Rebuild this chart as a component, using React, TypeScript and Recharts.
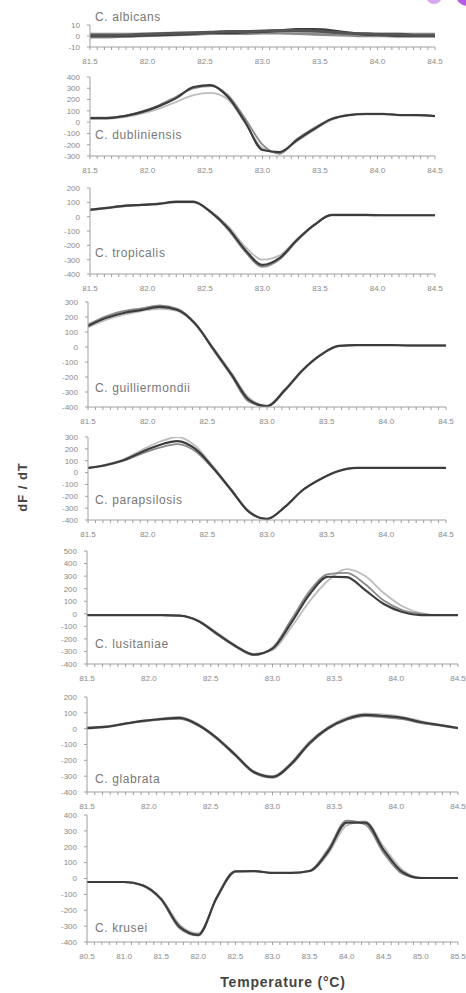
import { LineChart, Line, XAxis, YAxis } from "recharts";

// temperature grid (°C) for the first seven panels and for C. krusei
const TEMPS = [
  81.5, 81.65, 81.8, 81.95, 82.1, 82.25, 82.4, 82.55, 82.7, 82.85, 83.0, 83.15, 83.3, 83.45,
  83.6, 83.75, 83.9, 84.05, 84.2, 84.35, 84.5,
];
const TEMPS_KRUSEI = [
  80.5, 80.75, 81.0, 81.25, 81.5, 81.75, 82.0, 82.25, 82.5, 82.75, 83.0, 83.25, 83.5, 83.75,
  84.0, 84.25, 84.5, 84.75, 85.0, 85.25, 85.5,
];
const X_TICKS = [81.5, 82, 82.5, 83, 83.5, 84, 84.5];
const X_TICKS_KRUSEI = [80.5, 81, 81.5, 82, 82.5, 83, 83.5, 84, 84.5, 85, 85.5];

// dF/dT replicate curves per species (light, medium, dark)
const ALBICANS = [
  [2, 2, 2, 2, 2.5, 3, 3, 3, 3.5, 3, 3, 3, 3.5, 3, 3, 2.5, 2.5, 2, 2, 2, 2],
  [-1, -1, -0.5, 0, 0.5, 1, 1.5, 2, 2, 2, 2.5, 2.5, 2, 1.5, 1, 0.5, 0, 0, -0.5, -0.5, -0.5],
  [0, 0, 0, 0.5, 1, 1.5, 2, 3, 3, 3.5, 4, 5, 6, 6, 5, 3, 1.5, 1, 0.5, 0.5, 0.5],
  [1, 1, 1, 1.5, 2, 2.5, 3, 3.5, 4, 4, 4.5, 5, 5, 4.5, 3.5, 2.5, 2, 1.5, 1.5, 1, 1],
];
const DUBLINIENSIS = [
  [30, 30, 45, 75, 120, 180, 240, 260, 200, -10, -230, -270, -170, -70, 20, 60, 70, 70, 65, 60, 55],
  [40, 40, 55, 95, 150, 225, 300, 320, 240, 30, -200, -280, -150, -50, 30, 65, 75, 75, 65, 65, 55],
  [36, 36, 54, 89, 142, 213, 311, 328, 222, 1, -247, -265, -158, -61, 27, 63, 72, 72, 63, 63, 54],
];
const TROPICALIS = [
  [45, 58, 72, 80, 88, 100, 100, 38, -65, -210, -300, -270, -155, -55, 12, 12, 12, 12, 12, 12, 12],
  [50, 63, 78, 84, 92, 106, 106, 28, -90, -245, -350, -298, -168, -60, 10, 10, 10, 10, 10, 10, 10],
  [47, 61, 75, 82, 89, 103, 103, 33, -79, -232, -337, -288, -163, -58, 12, 12, 12, 10, 10, 10, 10],
];
const GUILLIERMONDII = [
  [130, 180, 215, 240, 255, 240, 150, -5, -170, -340, -390, -280, -150, -50, 8, 12, 12, 12, 10, 10, 10],
  [150, 205, 240, 258, 278, 255, 158, -20, -190, -365, -395, -292, -156, -55, 6, 12, 12, 12, 10, 10, 10],
  [140, 193, 227, 247, 267, 247, 153, -13, -180, -353, -395, -287, -153, -53, 7, 13, 13, 13, 10, 10, 10],
];
const PARAPSILOSIS = [
  [40, 66, 112, 190, 260, 300, 225, 50, -140, -325, -390, -290, -147, -54, 13, 39, 39, 39, 39, 39, 39],
  [38, 60, 100, 160, 210, 240, 180, 30, -150, -335, -392, -290, -147, -54, 13, 39, 39, 39, 39, 39, 39],
  [39, 64, 106, 174, 233, 266, 199, 39, -147, -332, -391, -290, -147, -54, 13, 39, 39, 39, 39, 39, 39],
];
const LUSITANIAE = [
  [-10, -10, -10, -10, -10, -15, -55, -150, -250, -320, -290, -110, 100, 265, 355, 300, 165, 60, 5, -10, -10],
  [-10, -10, -10, -10, -10, -15, -60, -165, -262, -330, -270, -50, 180, 315, 325, 235, 105, 30, 0, -10, -10],
  [-10, -10, -10, -10, -10, -15, -57, -158, -256, -325, -278, -75, 155, 295, 292, 188, 78, 14, -10, -10, -10],
];
const GLABRATA = [
  [0, 8, 28, 50, 65, 75, 30, -55, -160, -270, -300, -215, -80, 10, 70, 95, 90, 75, 48, 25, 5],
  [8, 14, 32, 45, 58, 62, 18, -65, -172, -280, -310, -230, -98, -2, 55, 80, 72, 60, 35, 20, 2],
  [4, 11, 30, 49, 61, 68, 23, -59, -166, -274, -305, -223, -90, 4, 61, 87, 80, 68, 42, 23, 4],
];
const KRUSEI = [
  [-22, -22, -22, -42, -125, -290, -345, -125, 40, 45, 35, 35, 45, 155, 335, 360, 200, 55, 5, 3, 3],
  [-22, -22, -22, -46, -135, -315, -360, -115, 48, 48, 36, 36, 50, 185, 365, 340, 160, 30, 2, 3, 3],
  [-22, -22, -22, -43, -130, -305, -355, -120, 44, 47, 35, 35, 47, 170, 352, 352, 179, 41, 3, 3, 3],
];

const SHADES = ["#bdbdbd", "#8a8a8a", "#3c3c3c", "#555555"];
const FONT = '"Liberation Sans", Arial, sans-serif';
const AXIS = "#a0a0a0";

type PanelProps = {
  name: string;
  labelY: number;
  top: number;
  bottom: number;
  x0: number;
  x1: number;
  temps: number[];
  xTicks: number[];
  minorPerMajor: number;
  yDomain: [number, number];
  yTicks: number[];
  curves: number[][];
  lineWidth?: number;
};

function Panel(p: PanelProps) {
  const mt = 4;
  const xAxisH = 22;
  const lw = p.lineWidth ?? 1.8;
  const data = p.temps.map((t, i) => {
    const row: Record<string, number> = { t };
    p.curves.forEach((c, k) => (row["s" + k] = c[i]));
    return row;
  });
  const step = (p.xTicks[1] - p.xTicks[0]) / p.minorPerMajor;
  const minor: number[] = [];
  for (let k = 0; k <= (p.xTicks.length - 1) * p.minorPerMajor; k++) {
    minor.push(Math.round((p.xTicks[0] + k * step) * 10000) / 10000);
  }
  const isMajor = (v: number) => p.xTicks.some((m) => Math.abs(m - v) < 1e-6);
  return (
    <div style={{ position: "absolute", left: 0, top: p.top - mt }}>
      <LineChart
        width={466}
        height={p.bottom - p.top + mt + xAxisH}
        data={data}
        margin={{ top: mt, right: 466 - p.x1, bottom: 0, left: p.x0 - 40 }}
        style={{ overflow: "visible" }}
      >
        <XAxis
          type="number"
          dataKey="t"
          domain={[p.temps[0], p.temps[p.temps.length - 1]]}
          allowDataOverflow
          ticks={minor}
          interval={0}
          height={xAxisH}
          tickSize={3}
          tickMargin={8}
          stroke={AXIS}
          tick={{ fontSize: 8, fill: "#8a8a8a", fontFamily: FONT }}
          tickFormatter={(v: number) => (isMajor(v) ? v.toFixed(1) : "")}
        />
        <YAxis
          type="number"
          domain={p.yDomain}
          allowDataOverflow
          ticks={p.yTicks}
          interval={0}
          width={40}
          tickSize={3}
          tickMargin={7}
          stroke={AXIS}
          tick={{ fontSize: 8, fill: "#8a8a8a", fontFamily: FONT }}
        />
        {p.curves.map((_, k) => (
          <Line
            key={k}
            dataKey={"s" + k}
            type="monotone"
            stroke={SHADES[k]}
            strokeWidth={k === p.curves.length - 1 ? lw + 0.4 : lw}
            dot={false}
            isAnimationActive={false}
          />
        ))}
      </LineChart>
      <div
        style={{
          position: "absolute",
          left: 95,
          top: p.labelY - (p.top - mt) - 8,
          fontFamily: FONT,
          fontSize: 12,
          letterSpacing: 0.6,
          color: "#777",
          whiteSpace: "nowrap",
        }}
      >
        {p.name}
      </div>
    </div>
  );
}

const range = (a: number, b: number, s: number) => {
  const out: number[] = [];
  for (let v = a; v <= b; v += s) out.push(v);
  return out;
};

export default function App() {
  return (
    <div style={{ position: "absolute", left: 0, top: 0, width: 466, height: 993, background: "#fff", overflow: "hidden" }}>
      <div style={{ position: "absolute", left: 426, top: -12, width: 16, height: 16, borderRadius: 8, background: "#d9a6f2" }} />
      <div style={{ position: "absolute", left: 455, top: -20, width: 26, height: 26, borderRadius: 13, background: "#b45ce8" }} />
      <Panel name="C. albicans" labelY={18} top={25} bottom={47} x0={90} x1={435} temps={TEMPS} xTicks={X_TICKS} minorPerMajor={8} yDomain={[-10, 10]} yTicks={[-10, 0, 10]} curves={ALBICANS} lineWidth={2.6} />
      <Panel name="C. dubliniensis" labelY={136} top={77} bottom={156} x0={90} x1={435} temps={TEMPS} xTicks={X_TICKS} minorPerMajor={8} yDomain={[-300, 400]} yTicks={range(-300, 400, 100)} curves={DUBLINIENSIS} />
      <Panel name="C. tropicalis" labelY={254} top={188} bottom={274} x0={90} x1={435} temps={TEMPS} xTicks={X_TICKS} minorPerMajor={8} yDomain={[-400, 200]} yTicks={range(-400, 200, 100)} curves={TROPICALIS} />
      <Panel name="C. guilliermondii" labelY={389} top={302} bottom={407} x0={88} x1={446} temps={TEMPS} xTicks={X_TICKS} minorPerMajor={8} yDomain={[-400, 300]} yTicks={range(-400, 300, 100)} curves={GUILLIERMONDII} />
      <Panel name="C. parapsilosis" labelY={501} top={437} bottom={520} x0={88} x1={446} temps={TEMPS} xTicks={X_TICKS} minorPerMajor={8} yDomain={[-400, 300]} yTicks={range(-400, 300, 100)} curves={PARAPSILOSIS} />
      <Panel name="C. lusitaniae" labelY={645} top={551} bottom={664} x0={87} x1={458} temps={TEMPS} xTicks={X_TICKS} minorPerMajor={8} yDomain={[-400, 500]} yTicks={range(-400, 500, 100)} curves={LUSITANIAE} />
      <Panel name="C. glabrata" labelY={780} top={697} bottom={792} x0={87} x1={458} temps={TEMPS} xTicks={X_TICKS} minorPerMajor={8} yDomain={[-400, 200]} yTicks={range(-400, 200, 100)} curves={GLABRATA} />
      <Panel name="C. krusei" labelY={929} top={815} bottom={942} x0={87} x1={458} temps={TEMPS_KRUSEI} xTicks={X_TICKS_KRUSEI} minorPerMajor={5} yDomain={[-400, 400]} yTicks={range(-400, 400, 100)} curves={KRUSEI} />
      <div
        style={{
          position: "absolute",
          left: 22,
          top: 487,
          transform: "translate(-50%, -50%) rotate(-90deg)",
          fontFamily: FONT,
          fontWeight: "bold",
          fontSize: 13,
          letterSpacing: 1,
          color: "#444",
          whiteSpace: "nowrap",
        }}
      >
        dF / dT
      </div>
      <div
        style={{
          position: "absolute",
          left: 283,
          top: 982,
          transform: "translate(-50%, -50%)",
          fontFamily: FONT,
          fontWeight: "bold",
          fontSize: 14,
          letterSpacing: 0.8,
          color: "#444",
          whiteSpace: "nowrap",
        }}
      >
        Temperature (°C)
      </div>
    </div>
  );
}
